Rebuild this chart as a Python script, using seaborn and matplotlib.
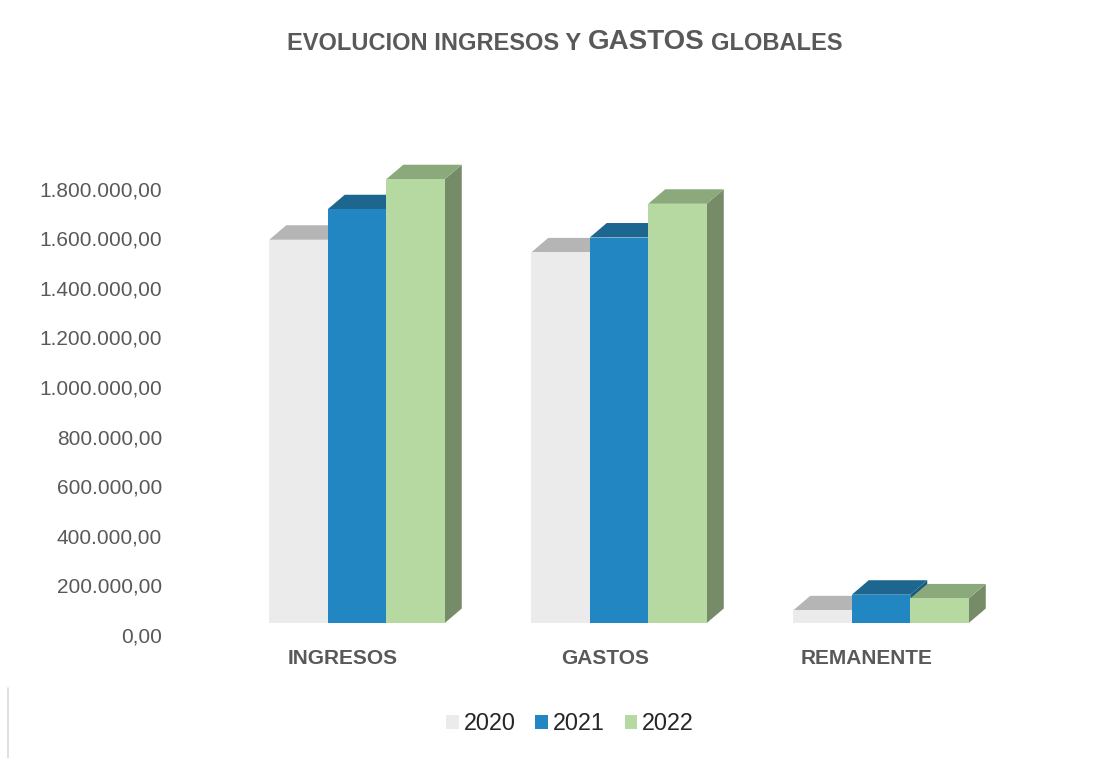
import numpy as np
import pandas as pd
import matplotlib
matplotlib.use("Agg")
import matplotlib.pyplot as plt
import seaborn as sns
from matplotlib.patches import Polygon, Patch
from matplotlib.lines import Line2D
from matplotlib.transforms import ScaledTranslation, IdentityTransform

# ---- data -------------------------------------------------------------
categories = ["INGRESOS", "GASTOS", "REMANENTE"]
years = ["2020", "2021", "2022"]
values_2020 = [1545000, 1494000, 51000]
values_2021 = [1668000, 1554000, 114000]
values_2022 = [1789000, 1690000, 99000]
y_ticks = [0, 200000, 400000, 600000, 800000, 1000000, 1200000, 1400000, 1600000, 1800000]

# ---- colours (front / top / side faces) --------------------------------
front_colors = {"2020": "#EBEBEB", "2021": "#2186C1", "2022": "#B6D9A1"}
top_colors = {"2020": "#B5B5B5", "2021": "#1C6690", "2022": "#8BA97A"}
side_colors = {"2020": "#9E9E9E", "2021": "#185A80", "2022": "#768C68"}
TEXT_GREY = "#595959"

sns.set_theme(style="white")
plt.rcParams["font.family"] = ["Liberation Sans", "DejaVu Sans"]

DPI = 100
W, H = 1117, 758
fig = plt.figure(figsize=(W / DPI, H / DPI), dpi=DPI)
fig.patch.set_facecolor("white")

# plot area laid out in pixels
cat_step = 262.0
x_lo, x_hi = -0.6, 2.6
y_max = 1900000
px_per_unit = 446.5 / 1800000
ax_left = 343.0 + x_lo * cat_step
ax_bottom = H - 635.0
ax = fig.add_axes([ax_left / W, ax_bottom / H,
                   (x_hi - x_lo) * cat_step / W, y_max * px_per_unit / H])

df = pd.DataFrame({
    "categoria": categories * 3,
    "anio": np.repeat(years, len(categories)),
    "valor": values_2020 + values_2021 + values_2022,
})

sns.barplot(data=df, x="categoria", y="valor", hue="anio", hue_order=years,
            order=categories, palette=front_colors, width=0.67, saturation=1,
            errorbar=None, linewidth=0, legend=False, ax=ax)

ax.set_xlim(x_lo, x_hi)
ax.set_ylim(0, y_max)
ax.set_facecolor("white")
for s in ax.spines.values():
    s.set_visible(False)
ax.grid(False)
ax.set_xlabel("")
ax.set_ylabel("")

# bars sit a little behind the floor's front edge; each has a visible depth
floor_dx, floor_dy = 14.0, 12.0
depth_dx, depth_dy = 17.0, 14.5
shift = ScaledTranslation(floor_dx / DPI, floor_dy / DPI, fig.dpi_scale_trans)
bar_tr = ax.transData + shift

bars = [p for p in ax.patches if p.get_width() > 0]
bars.sort(key=lambda p: p.get_x())
year_of = {}
for yr in years:
    col = matplotlib.colors.to_rgba(front_colors[yr])
    year_of[col] = yr

for i, p in enumerate(bars):
    yr = year_of.get(matplotlib.colors.to_rgba(p.get_facecolor()), "2020")
    x, y, w, h = p.get_x(), p.get_y(), p.get_width(), p.get_height()
    (fx0, fy0), (fx1, fy1) = bar_tr.transform([(x, y), (x + w, y + h)])
    top = Polygon([(fx0, fy1), (fx1, fy1), (fx1 + depth_dx, fy1 + depth_dy),
                   (fx0 + depth_dx, fy1 + depth_dy)], closed=True,
                  facecolor=top_colors[yr], edgecolor="none",
                  transform=IdentityTransform(), clip_on=False)
    side = Polygon([(fx1, fy0), (fx1, fy1), (fx1 + depth_dx, fy1 + depth_dy),
                    (fx1 + depth_dx, fy0 + depth_dy)], closed=True,
                   facecolor=side_colors[yr], edgecolor="none",
                   transform=IdentityTransform(), clip_on=False)
    base = 3 + 3 * i
    side.set_zorder(base)
    top.set_zorder(base + 1)
    ax.add_artist(side)
    ax.add_artist(top)
    p.set_transform(bar_tr)
    p.set_clip_on(False)
    p.set_zorder(base + 2)

# axes ticks and labels
def fmt_es(v):
    return f"{v:,.2f}".replace(",", "X").replace(".", ",").replace("X", ".")

ax.set_yticks(y_ticks)
ax.set_yticklabels([fmt_es(v) for v in y_ticks])
ax.tick_params(axis="y", length=0, pad=17, labelsize=15, labelcolor=TEXT_GREY)
ax.set_xticks(range(len(categories)))
ax.set_xticklabels(categories, fontweight="bold")
ax.tick_params(axis="x", length=0, pad=10, labelsize=15, labelcolor=TEXT_GREY)

# title with a larger middle word
t1 = fig.text(287 / W, 1 - 50 / H, "EVOLUCION INGRESOS Y", fontsize=17,
              fontweight="bold", color=TEXT_GREY, va="baseline", ha="left")
t2 = ax.annotate("GASTOS", xy=(1, 0), xycoords=t1, xytext=(4.8, 0),
                 textcoords="offset points", fontsize=20, fontweight="bold",
                 color=TEXT_GREY, va="bottom", ha="left", annotation_clip=False)
t3 = ax.annotate("GLOBALES", xy=(1, 0), xycoords=t2, xytext=(4.8, 0),
                 textcoords="offset points", fontsize=17, fontweight="bold",
                 color=TEXT_GREY, va="bottom", ha="left", annotation_clip=False)

# legend
handles = [Patch(facecolor=front_colors[yr], edgecolor="none", label=yr) for yr in years]
fig.legend(handles=handles, loc="center", bbox_to_anchor=(570 / W, 34 / H), ncol=3,
           frameon=False, fontsize=16.8, handlelength=0.55, handleheight=0.55,
           handletextpad=0.2, columnspacing=0.85, borderaxespad=0, borderpad=0)

# chart-area border fragment at the left edge
fig.add_artist(Line2D([7.5 / W, 7.5 / W], [0, 70 / H], color="#D9D9D9", lw=1.2,
                      transform=fig.transFigure))

fig.savefig("out.png", dpi=DPI)
